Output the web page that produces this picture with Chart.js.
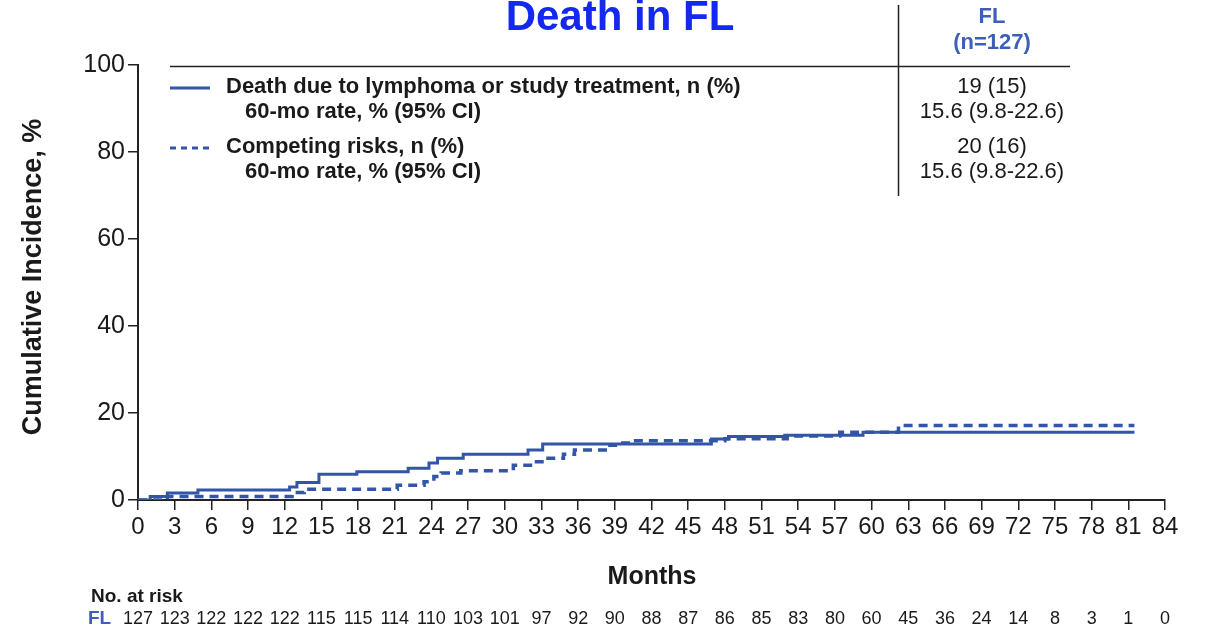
<!DOCTYPE html>
<html>
<head>
<meta charset="utf-8">
<title>Death in FL</title>
<script src="https://cdn.jsdelivr.net/npm/chart.js@4.4.1/dist/chart.umd.min.js"></script>
<style>
  html, body { margin: 0; padding: 0; background: #fff; }
  #wrap { width: 1205px; height: 628px; }
</style>
</head>
<body>
<div id="wrap"><canvas id="chart" width="1205" height="628"></canvas></div>
<script>
// data
const deathMonths = [0, 1.0, 2.4, 4.9, 12.4, 13.0, 14.8, 17.9, 22.1, 23.8, 24.5, 26.6, 31.9, 33.1, 46.9, 48.3, 52.9, 59.3, 81.5];
const deathRates  = [0, 0.8, 1.6, 2.3, 3.0, 4.0, 5.9, 6.5, 7.3, 8.5, 9.6, 10.5, 11.5, 12.9, 14.0, 14.6, 14.9, 15.6, 15.6];

const compMonths = [0, 2.4, 12.6, 13.6, 21.2, 23.4, 24.2, 24.8, 26.4, 30.7, 32.4, 33.2, 34.8, 35.7, 38.4, 39.3, 40.1, 48.0, 53.1, 57.4, 62.2, 81.5];
const compRates  = [0, 0.8, 1.7, 2.5, 3.4, 4.2, 5.4, 6.2, 6.7, 8.0, 8.8, 9.6, 10.5, 11.5, 12.6, 13.1, 13.6, 14.1, 14.7, 15.6, 17.1, 17.1];

const riskMonths = [0, 3, 6, 9, 12, 15, 18, 21, 24, 27, 30, 33, 36, 39, 42, 45, 48, 51, 54, 57, 60, 63, 66, 69, 72, 75, 78, 81, 84];
const atRisk     = [127, 123, 122, 122, 122, 115, 115, 114, 110, 103, 101, 97, 92, 90, 88, 87, 86, 85, 83, 80, 60, 45, 36, 24, 14, 8, 3, 1, 0];

const seriesLabels = ['Death due to lymphoma or study treatment, n (%)', 'Competing risks, n (%)'];
const rateLabel = '60-mo rate, % (95% CI)';
const countTexts = ['19 (15)', '20 (16)'];
const rateTexts = ['15.6 (9.8-22.6)', '15.6 (9.8-22.6)'];

const FONT = "'Liberation Sans', Arial, Helvetica, sans-serif";
const lineColor = '#3355a8';
const headColor = '#3d5fb9';
const ink = '#1a1a1a';

function toPoints(xs, ys) {
    return xs.map((x, i) => ({ x: x, y: ys[i] }));
}

// titles, legend table, at-risk row
const decor = {
    id: 'decor',
    afterDraw(chart) {
        const ctx = chart.ctx;
        const xs = chart.scales.x;
        ctx.save();

        // main title
        ctx.fillStyle = '#1428f0';
        ctx.font = 'bold 42px ' + FONT;
        ctx.textAlign = 'center';
        ctx.textBaseline = 'alphabetic';
        ctx.fillText('Death in FL', 620, 30);

        // legend table lines
        ctx.strokeStyle = '#222';
        ctx.lineWidth = 1.5;
        ctx.beginPath();
        ctx.moveTo(170, 66.5); ctx.lineTo(1070, 66.5);
        ctx.moveTo(898.5, 5); ctx.lineTo(898.5, 196);
        ctx.stroke();

        // column header
        ctx.fillStyle = headColor;
        ctx.font = 'bold 22px ' + FONT;
        ctx.textBaseline = 'middle';
        ctx.fillText('FL', 992, 17);
        ctx.fillText('(n=127)', 992, 43);

        // legend rows
        const rowY = [87, 147];
        rowY.forEach((y, i) => {
            ctx.strokeStyle = lineColor;
            ctx.lineWidth = 3;
            ctx.setLineDash(i === 0 ? [] : [6, 5]);
            ctx.beginPath();
            ctx.moveTo(170, y + 1); ctx.lineTo(210, y + 1);
            ctx.stroke();
            ctx.setLineDash([]);

            ctx.fillStyle = ink;
            ctx.textAlign = 'left';
            ctx.font = 'bold 22px ' + FONT;
            ctx.fillText(seriesLabels[i], 226, y);
            ctx.fillText(rateLabel, 245, y + 25);

            ctx.textAlign = 'center';
            ctx.font = '22px ' + FONT;
            ctx.fillText(countTexts[i], 992, y);
            ctx.fillText(rateTexts[i], 992, y + 25);
        });

        // y axis title
        ctx.save();
        ctx.translate(34, 277);
        ctx.rotate(-Math.PI / 2);
        ctx.fillStyle = ink;
        ctx.font = 'bold 27px ' + FONT;
        ctx.textAlign = 'center';
        ctx.textBaseline = 'middle';
        ctx.fillText('Cumulative Incidence, %', 0, 0);
        ctx.restore();

        // x axis title
        ctx.fillStyle = ink;
        ctx.font = 'bold 25px ' + FONT;
        ctx.textAlign = 'center';
        ctx.textBaseline = 'middle';
        ctx.fillText('Months', 652, 577);

        // number at risk
        ctx.font = 'bold 19px ' + FONT;
        ctx.textAlign = 'left';
        ctx.fillText('No. at risk', 91, 597);
        ctx.fillStyle = headColor;
        ctx.fillText('FL', 88, 619);
        ctx.fillStyle = ink;
        ctx.font = '18px ' + FONT;
        ctx.textAlign = 'center';
        riskMonths.forEach((m, i) => {
            ctx.fillText(String(atRisk[i]), xs.getPixelForValue(m), 619);
        });

        ctx.restore();
    }
};

new Chart(document.getElementById('chart'), {
    type: 'line',
    data: {
        datasets: [
            {
                label: seriesLabels[0],
                data: toPoints(deathMonths, deathRates),
                borderColor: lineColor,
                borderWidth: 3,
                stepped: true,
                pointRadius: 0,
                fill: false
            },
            {
                label: seriesLabels[1],
                data: toPoints(compMonths, compRates),
                borderColor: lineColor,
                borderWidth: 3.5,
                borderDash: [9, 6],
                stepped: true,
                pointRadius: 0,
                fill: false
            }
        ]
    },
    options: {
        responsive: false,
        animation: false,
        events: [],
        layout: { padding: { left: 0, top: 65, right: 40, bottom: 0 } },
        plugins: {
            legend: { display: false },
            tooltip: { enabled: false },
            title: { display: false }
        },
        scales: {
            x: {
                type: 'linear',
                min: 0,
                max: 84,
                ticks: {
                    stepSize: 3,
                    autoSkip: false,
                    maxRotation: 0,
                    color: ink,
                    padding: 3,
                    font: { family: FONT, size: 24 }
                },
                grid: { drawOnChartArea: false, drawTicks: true, tickLength: 10, color: '#222', lineWidth: 1.5 },
                border: { display: true, color: '#222', width: 2 },
                afterFit(scale) { scale.height = 128; }
            },
            y: {
                min: 0,
                max: 100,
                ticks: {
                    stepSize: 20,
                    color: ink,
                    padding: 3,
                    font: { family: FONT, size: 25 }
                },
                grid: { drawOnChartArea: false, drawTicks: true, tickLength: 10, color: '#222', lineWidth: 1.5 },
                border: { display: true, color: '#222', width: 2 },
                afterFit(scale) { scale.width = 138; }
            }
        }
    },
    plugins: [decor]
});
</script>
</body>
</html>
